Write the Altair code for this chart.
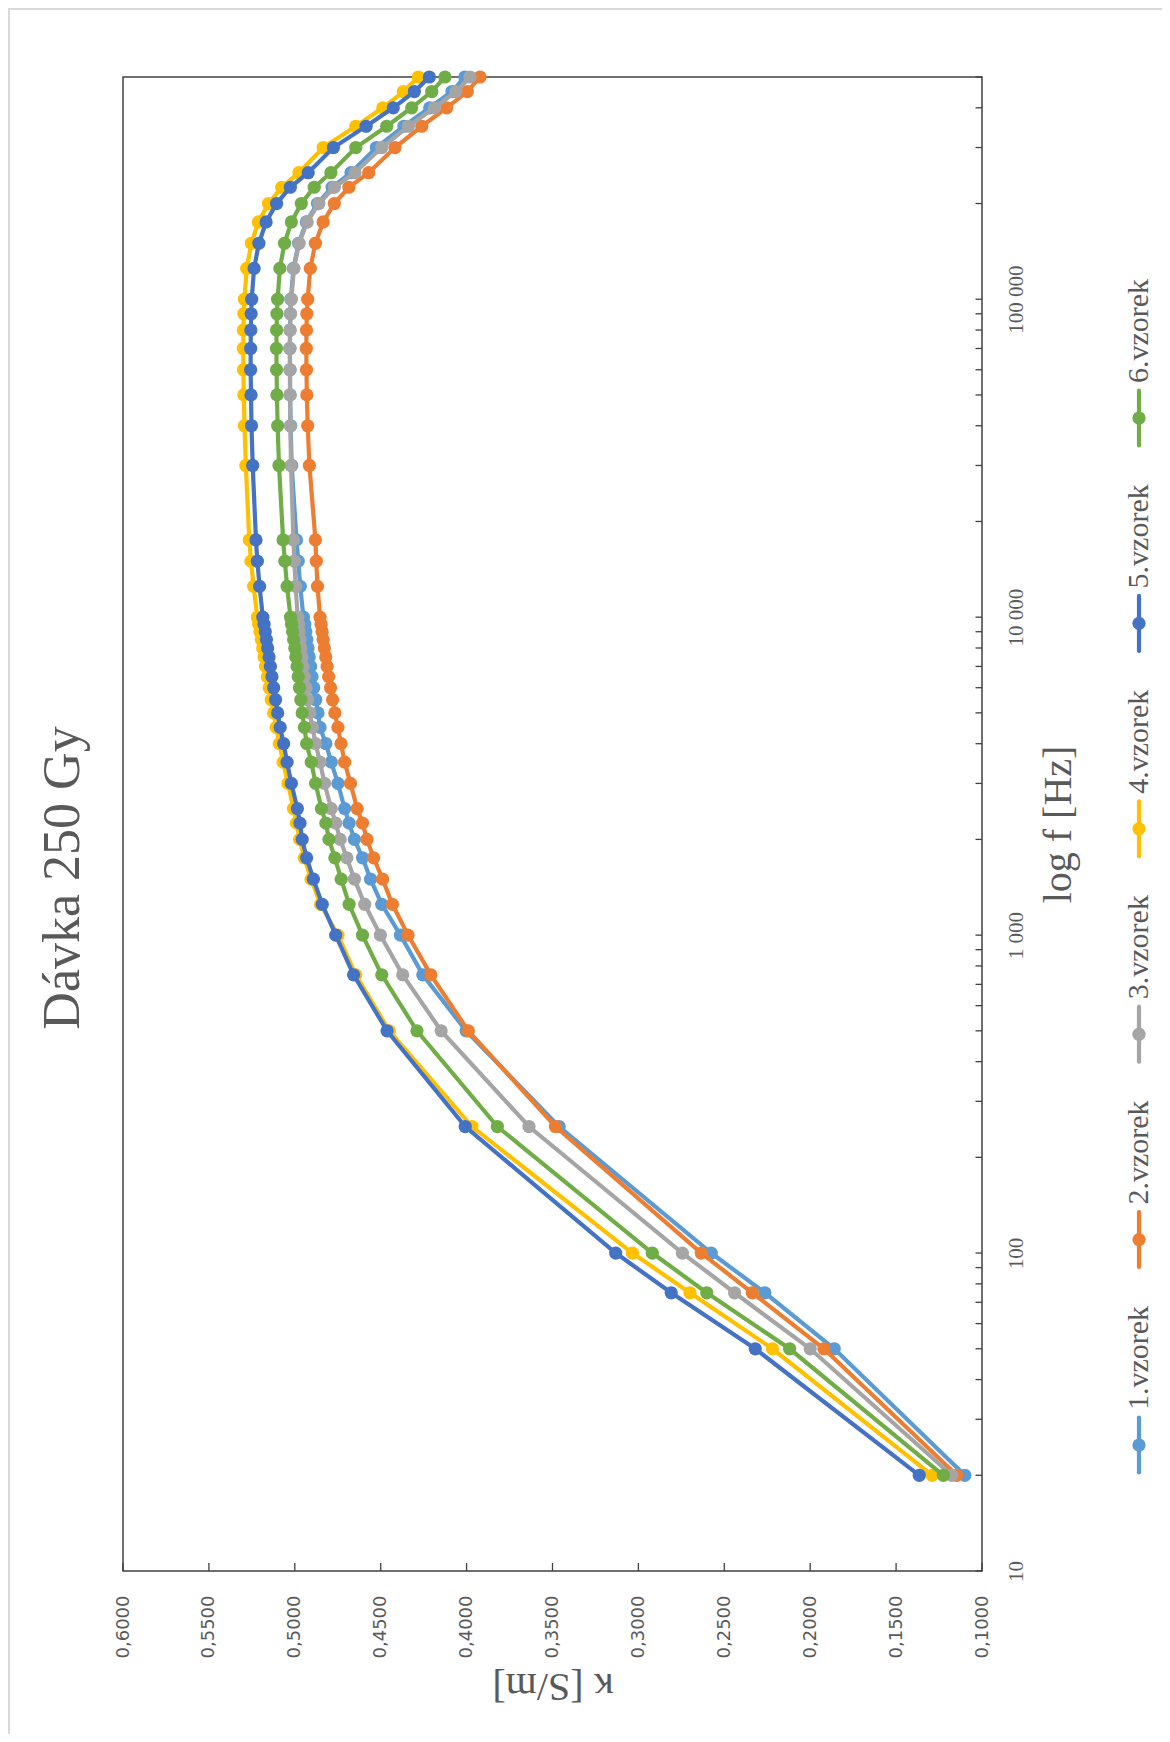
import altair as alt
import pandas as pd

# ---------------- data ----------------
FREQ = [20, 50, 75, 100, 250, 500, 750, 1000, 1250, 1500, 1750, 2000, 2250, 2500,
        3000, 3500, 4000, 4500, 5000, 5500, 6000, 6500, 7000, 7500, 8000, 8500,
        9000, 9500, 10000, 12500, 15000, 17500, 30000, 40000, 50000, 60000,
        70000, 80000, 90000, 100000, 125000, 150000, 175000, 200000, 225000,
        250000, 300000, 350000, 400000, 450000, 500000]

S1 = [0.1100, 0.1860, 0.2264, 0.2576, 0.3462, 0.4003, 0.4255, 0.4385, 0.4494, 0.4559,
      0.4606, 0.4653, 0.4684, 0.4710, 0.4749, 0.4788, 0.4819, 0.4853, 0.4865, 0.4878,
      0.4890, 0.4900, 0.4908, 0.4916, 0.4923, 0.4930, 0.4936, 0.4942, 0.4950, 0.4968,
      0.4980, 0.4990, 0.5018, 0.5024, 0.5027, 0.5028, 0.5029, 0.5028, 0.5026,
      0.5023, 0.5008, 0.4978, 0.4933, 0.4868, 0.4783, 0.4673, 0.4525, 0.4365, 0.4215,
      0.4085, 0.4010]
S2 = [0.1147, 0.1920, 0.2337, 0.2634, 0.3483, 0.3990, 0.4208, 0.4341, 0.4432, 0.4489,
      0.4541, 0.4580, 0.4606, 0.4637, 0.4676, 0.4710, 0.4731, 0.4749, 0.4767, 0.4780,
      0.4792, 0.4803, 0.4812, 0.4820, 0.4828, 0.4835, 0.4841, 0.4847, 0.4853, 0.4868,
      0.4875, 0.4880, 0.4915, 0.4925, 0.4930, 0.4932, 0.4933, 0.4932, 0.4930,
      0.4925, 0.4910, 0.4880, 0.4835, 0.4770, 0.4685, 0.4570, 0.4417, 0.4261, 0.4116,
      0.3996, 0.3922]
S3 = [0.1176, 0.2000, 0.2440, 0.2744, 0.3637, 0.4148, 0.4372, 0.4502, 0.4593, 0.4653,
      0.4697, 0.4736, 0.4762, 0.4788, 0.4827, 0.4853, 0.4879, 0.4897, 0.4913, 0.4925,
      0.4935, 0.4944, 0.4952, 0.4958, 0.4964, 0.4970, 0.4975, 0.4979, 0.4983, 0.4995,
      0.5003, 0.5008, 0.5022, 0.5026, 0.5028, 0.5028, 0.5028, 0.5027, 0.5025,
      0.5020, 0.5005, 0.4975, 0.4928, 0.4860, 0.4770, 0.4650, 0.4494, 0.4339, 0.4188,
      0.4062, 0.3980]
S4 = [0.1290, 0.2220, 0.2700, 0.3035, 0.3969, 0.4450, 0.4645, 0.4749, 0.4850, 0.4905,
      0.4945, 0.4972, 0.4990, 0.5008, 0.5040, 0.5068, 0.5090, 0.5108, 0.5123, 0.5137,
      0.5149, 0.5160, 0.5170, 0.5179, 0.5187, 0.5195, 0.5203, 0.5210, 0.5218, 0.5240,
      0.5255, 0.5265, 0.5285, 0.5293, 0.5297, 0.5299, 0.5300, 0.5299, 0.5297,
      0.5293, 0.5280, 0.5253, 0.5212, 0.5153, 0.5076, 0.4976, 0.4835, 0.4645, 0.4488,
      0.4368, 0.4281]
S5 = [0.1365, 0.2320, 0.2809, 0.3132, 0.4008, 0.4463, 0.4658, 0.4762, 0.4840, 0.4892,
      0.4931, 0.4957, 0.4970, 0.4985, 0.5020, 0.5045, 0.5065, 0.5085, 0.5100, 0.5112,
      0.5123, 0.5133, 0.5142, 0.5150, 0.5158, 0.5165, 0.5172, 0.5179, 0.5186, 0.5205,
      0.5218, 0.5226, 0.5245, 0.5252, 0.5255, 0.5257, 0.5257, 0.5256, 0.5254,
      0.5251, 0.5237, 0.5209, 0.5167, 0.5106, 0.5026, 0.4922, 0.4775, 0.4585, 0.4427,
      0.4304, 0.4217]
S6 = [0.1225, 0.2120, 0.2602, 0.2919, 0.3821, 0.4289, 0.4494, 0.4606, 0.4684, 0.4730,
      0.4767, 0.4801, 0.4819, 0.4845, 0.4879, 0.4904, 0.4931, 0.4944, 0.4957, 0.4965,
      0.4973, 0.4980, 0.4987, 0.4994, 0.5000, 0.5007, 0.5013, 0.5019, 0.5025, 0.5045,
      0.5058, 0.5068, 0.5092, 0.5100, 0.5104, 0.5106, 0.5107, 0.5106, 0.5104,
      0.5100, 0.5087, 0.5060, 0.5020, 0.4962, 0.4887, 0.4790, 0.4645, 0.4465, 0.4320,
      0.4203, 0.4126]

SERIES = ["1.vzorek", "2.vzorek", "3.vzorek", "4.vzorek", "5.vzorek", "6.vzorek"]
VALUES = [S1, S2, S3, S4, S5, S6]
COLORS = ["#5B9BD5", "#ED7D31", "#A5A5A5", "#FFC000", "#4472C4", "#70AD47"]

K_TICKS = [0.10, 0.15, 0.20, 0.25, 0.30, 0.35, 0.40, 0.45, 0.50, 0.55, 0.60]
F_LABELS = [10, 100, 1000, 10000, 100000]
F_TICKS = [m * d for d in [10, 100, 1000, 10000] for m in range(1, 10)] + \
          [100000, 200000, 300000, 400000, 500000]

TITLE = "Dávka 250 Gy"
X_TITLE = "κ [S/m]"
Y_TITLE = "log f [Hz]"

# ---------------- layout ----------------
W, H = 859, 1494
TEXT = "#595959"
SERIF = "Liberation Serif"

rows = []
for name, vals in zip(SERIES, VALUES):
    for f, k in zip(FREQ, vals):
        rows.append({"series": name, "f": f, "k": k})
df = pd.DataFrame(rows)

xscale = alt.Scale(domain=[0.1, 0.6], reverse=True, nice=False, zero=False)
yscale = alt.Scale(type="log", domain=[10, 500000], nice=False)

xaxis = alt.Axis(
    orient="bottom", values=K_TICKS, ticks=False, domain=False, grid=False,
    labelExpr="replace(format(datum.value, '.4f'), '.', ',')",
    labelAngle=270, labelAlign="right", labelBaseline="middle", labelPadding=24,
    labelFont="DejaVu Sans", labelFontSize=18, labelColor=TEXT, labelFlush=False,
    labelOverlap=False,
    title=X_TITLE, titleFont=SERIF, titleFontSize=40, titleFontWeight="normal",
    titleColor=TEXT, titleAngle=180, titleBaseline="bottom", titlePadding=8,
)
yaxis = alt.Axis(
    orient="right", values=F_LABELS, ticks=False, domain=False, grid=False,
    labelExpr="replace(format(datum.value, ','), regexp(',', 'g'), ' ')",
    labelAngle=270, labelAlign="center", labelBaseline="top", labelPadding=23,
    labelFont=SERIF, labelFontSize=21, labelColor=TEXT, labelFlush=False,
    labelOverlap=False,
    title=Y_TITLE, titleFont=SERIF, titleFontSize=40, titleFontWeight="normal",
    titleColor=TEXT, titleAngle=270, titleBaseline="top", titlePadding=12,
)

X = alt.X("k:Q", scale=xscale, axis=xaxis)
Y = alt.Y("f:Q", scale=yscale, axis=yaxis)

layers = []
for name, col in zip(SERIES, COLORS):
    base = alt.Chart(df[df.series == name]).encode(x=X, y=Y)
    layers.append(base.mark_line(color=col, strokeWidth=4.2).encode(order="f:Q"))
    layers.append(base.mark_circle(color=col, size=175, opacity=1))

# inward ticks on the frequency axis
ftick = alt.Chart(pd.DataFrame({"f": F_TICKS})).mark_rule(
    color="#404040", strokeWidth=1.3
).encode(y=Y, x=alt.value(W), x2=alt.value(W - 6.5))
# inward ticks on the conductivity axis
ktick = alt.Chart(pd.DataFrame({"k": K_TICKS})).mark_rule(
    color="#404040", strokeWidth=1.3
).encode(x=X, y=alt.value(H), y2=alt.value(H - 8))

main = alt.layer(*layers, ftick, ktick)

# legend (rotated, like the reference)
leg = pd.DataFrame({"series": SERIES, "color": COLORS})
LY = alt.Y("series:N", scale=alt.Scale(type="point", domain=SERIES,
                                        range=[1368, 341], padding=0), axis=None)
LC = alt.Color("series:N", scale=alt.Scale(domain=SERIES, range=COLORS), legend=None)
LX = alt.value(1016)
leg_line = alt.Chart(leg).mark_point(
    shape="M0,-1L0,1", filled=False, strokeWidth=4.2, size=3025, strokeCap="round",
    opacity=1
).encode(x=LX, y=LY, stroke=LC)
leg_dot = alt.Chart(leg).mark_circle(size=175, opacity=1).encode(x=LX, y=LY, color=LC)
leg_text = alt.Chart(leg).mark_text(
    angle=270, align="left", baseline="middle", dx=35, font=SERIF, fontSize=30,
    color=TEXT
).encode(x=LX, y=LY, text="series:N")
legend = alt.layer(leg_line, leg_dot, leg_text)

title = alt.Chart(pd.DataFrame({"t": [TITLE]})).mark_text(
    angle=270, align="center", baseline="middle", font=SERIF, fontSize=52, color=TEXT
).encode(x=alt.value(-60), y=alt.value(801), text="t:N")

frame = alt.Chart(pd.DataFrame({"a": [0]})).mark_rect(
    fill=None, stroke="#D9D9D9", strokeWidth=2
).encode(x=alt.value(-114), x2=alt.value(W + 260), y=alt.value(-68), y2=alt.value(H + 250))

chart = alt.layer(frame, main, legend, title).resolve_scale(
    y="independent", color="independent"
).properties(
    width=W, height=H,
    autosize=alt.AutoSizeParams(type="none"),
    padding={"left": 115, "top": 69, "right": 180, "bottom": 163},
).configure_view(stroke="#404040", strokeWidth=1.5)

chart.save("out.html", embed_options={"renderer": "svg", "actions": False})
